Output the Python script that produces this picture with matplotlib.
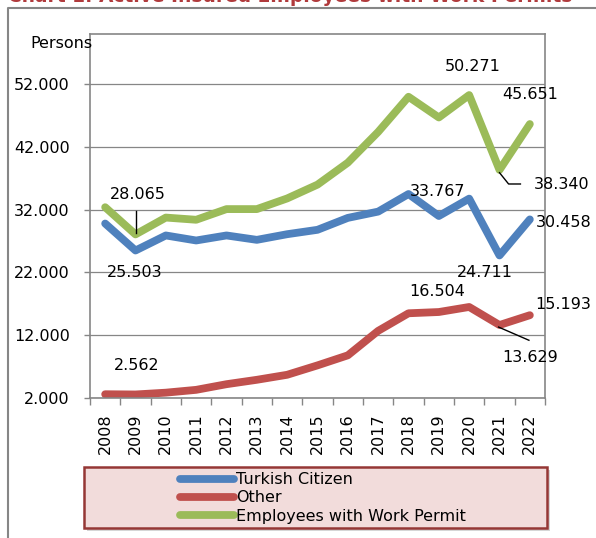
import matplotlib
matplotlib.use("Agg")
import matplotlib.pyplot as plt
from matplotlib.patches import Rectangle
from matplotlib.lines import Line2D
from matplotlib.ticker import FuncFormatter, FixedLocator

years = ["2008", "2009", "2010", "2011", "2012", "2013", "2014", "2015",
         "2016", "2017", "2018", "2019", "2020", "2021", "2022"]
turkish = [29800, 25503, 27900, 27100, 27900, 27200, 28100, 28800,
           30700, 31700, 34500, 31000, 33767, 24711, 30458]
other = [2600, 2562, 2850, 3300, 4200, 4900, 5700, 7200,
         8800, 12700, 15500, 15700, 16504, 13629, 15193]
permit = [32400, 28065, 30750, 30400, 32100, 32100, 33800, 36000,
          39500, 44400, 50000, 46700, 50271, 38340, 45651]

# label text, x (category index), y (value) where Excel placed them
labels = [("28.065", 1.08, 34500), ("25.503", 0.98, 22000),
          ("33.767", 10.95, 34900), ("50.271", 12.1, 54900),
          ("45.651", 14.0, 50400), ("38.340", 15.05, 36000),
          ("30.458", 15.1, 30000), ("24.711", 12.53, 22000),
          ("16.504", 10.95, 18900), ("15.193", 15.1, 16900),
          ("13.629", 14.0, 8500), ("2.562", 1.05, 7200)]

BLUE = "#4F81BD"
RED = "#C0504D"
GREEN = "#9BBB59"
GRAY = "#868686"
FS = 11.5

W, H = 596, 538
fig = plt.figure(figsize=(W / 100, H / 100), dpi=100)
ax = fig.add_axes([90 / W, 1 - 398 / H, 455 / W, 364 / H])

x = list(range(len(years)))
lw = 5.6
l1, = ax.plot(x, turkish, color=BLUE, lw=lw, solid_capstyle="round",
              solid_joinstyle="round", label="Turkish Citizen")
l2, = ax.plot(x, other, color=RED, lw=lw, solid_capstyle="round",
              solid_joinstyle="round", label="Other")
l3, = ax.plot(x, permit, color=GREEN, lw=lw, solid_capstyle="round",
              solid_joinstyle="round", label="Employees with Work Permit")

ax.set_xlim(-0.5, len(years) - 0.5)
ax.set_ylim(2000, 60000)
ax.set_yticks(range(2000, 60000, 10000))
ax.yaxis.set_major_formatter(FuncFormatter(lambda v, p: f"{int(v):,}".replace(",", ".")))
ax.grid(axis="y", color=GRAY, lw=0.9)
ax.set_axisbelow(True)

ax.set_xticks(x)
ax.set_xticklabels(years, rotation=90)
ax.xaxis.set_minor_locator(FixedLocator([i - 0.5 for i in range(len(years) + 1)]))
ax.tick_params(axis="x", which="major", length=0, pad=11, labelsize=FS)
ax.tick_params(axis="x", which="minor", length=5, width=1, color=GRAY, direction="out")
ax.tick_params(axis="y", length=4.5, width=1, color=GRAY, pad=10, labelsize=FS)
for s in ax.spines.values():
    s.set_color(GRAY)
    s.set_linewidth(1.2)

for txt, lx, ly in labels:
    ax.text(lx, ly, txt, fontsize=FS, ha="center", va="center")

# leader lines
ax.plot([1.0, 1.0], [31800, 28300], color="black", lw=1)
ax.plot([13.0, 13.3, 13.69], [37900, 36100, 36100], color="black", lw=1)
ax.plot([12.97, 13.97], [13300, 11200], color="black", lw=1)

fig.text(30 / W, 1 - 44 / H, "Persons", fontsize=FS, va="center", ha="left")

# chart area border (cropped)
fig.add_artist(Line2D([8 / W, 8 / W, 1.0], [0.0, 1 - 7.5 / H, 1 - 7.5 / H],
                      color=GRAY, lw=1.5, transform=fig.transFigure))

# cropped title, only its lower part shows in the source
fig.text(8 / W, 1 - 2 / H, "Chart 1: Active Insured Employees with Work Permits",
         fontsize=13.4, fontweight="bold", color="#B03A3C", va="baseline", ha="left")

# legend box with shadow
fig.add_artist(Rectangle((87 / W, 1 - 531 / H), 463 / W, 61 / H, transform=fig.transFigure,
                         facecolor="#BBBBBB", edgecolor="none", alpha=0.6, zorder=1))
fig.add_artist(Rectangle((84 / W, 1 - 528 / H), 463 / W, 61 / H, transform=fig.transFigure,
                         facecolor="#F2DCDB", edgecolor="#953735", lw=1.8, zorder=2))
leg = fig.legend(handles=[l1, l2, l3], loc="upper left",
                 bbox_to_anchor=(169 / W, 1 - 461 / H), frameon=False,
                 fontsize=FS, handlelength=3.4, handletextpad=0.1,
                 labelspacing=0.2, borderpad=0.2)
leg.set_zorder(3)

fig.savefig("out.png", dpi=100)
